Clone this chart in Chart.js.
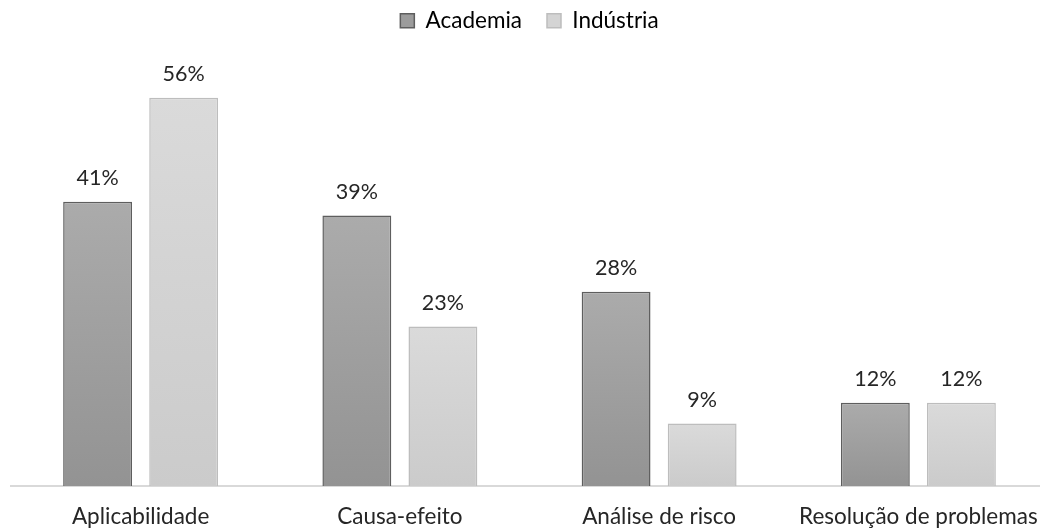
<!DOCTYPE html>
<html>
<head>
<meta charset="utf-8">
<script src="https://cdn.jsdelivr.net/npm/chart.js@4.4.1/dist/chart.umd.min.js"></script>
<style>
  html, body { margin: 0; padding: 0; background: #fff; overflow: hidden; }
  #wrap { width: 1058px; height: 531px; }
</style>
</head>
<body>
<div id="wrap"><canvas id="chart"></canvas></div>
<script>
const categories = ['Aplicabilidade', 'Causa-efeito', 'Análise de risco', 'Resolução de problemas']
const academia = [41, 39, 28, 12]
const industria = [56, 23, 9, 12]
const seriesNames = ['Academia', 'Indústria']

const FONT = 'Lato, "Open Sans", sans-serif'
const TEXT = '#262626'

// vertical gradient per bar, lighter at the top
function barGradient(top, bottom) {
  return (ctx) => {
    const chart = ctx.chart
    if (!chart.chartArea || ctx.raw === undefined) return bottom
    const y = chart.scales.y
    const g = chart.ctx.createLinearGradient(0, y.getPixelForValue(ctx.raw), 0, y.getPixelForValue(0))
    g.addColorStop(0, top)
    g.addColorStop(1, bottom)
    return g
  }
}

// percent labels above each bar
const valueLabels = {
  id: 'valueLabels',
  afterDatasetsDraw(chart) {
    const c = chart.ctx
    c.save()
    c.font = '21.5px ' + FONT
    c.fillStyle = TEXT
    c.textAlign = 'center'
    c.textBaseline = 'alphabetic'
    chart.data.datasets.forEach((ds, i) => {
      chart.getDatasetMeta(i).data.forEach((bar, j) => {
        c.fillText(ds.data[j] + '%', bar.x, bar.y - 17)
      })
    })
    c.restore()
  }
}

// leave room between legend and plot
const legendGap = {
  id: 'legendGap',
  beforeInit(chart) {
    const fit = chart.legend.fit
    chart.legend.fit = function () {
      fit.bind(this)()
      this.height = 85.5
    }
  }
}

const ctx = document.getElementById('chart').getContext('2d')
const chart = new Chart(ctx, {
  type: 'bar',
  data: {
    labels: categories,
    datasets: [
      {
        label: seriesNames[0],
        data: academia,
        backgroundColor: barGradient('#ababab', '#939393'),
        borderColor: '#5e5e5e',
        borderWidth: 1.5
      },
      {
        label: seriesNames[1],
        data: industria,
        backgroundColor: barGradient('#dadada', '#cbcbcb'),
        borderColor: '#bdbdbd',
        borderWidth: 1.5
      }
    ]
  },
  options: {
    responsive: true,
    maintainAspectRatio: false,
    animation: false,
    categoryPercentage: 0.664,
    barPercentage: 0.8,
    layout: { padding: { top: -15.5, left: 11, right: 10, bottom: 0 } },
    plugins: {
      tooltip: { enabled: false },
      legend: {
        position: 'top',
        labels: {
          font: { family: FONT, size: 22.5 },
          color: TEXT,
          boxWidth: 14,
          boxHeight: 14,
          padding: 25,
          generateLabels: () => [
            { text: seriesNames[0], fillStyle: '#9c9c9c', strokeStyle: '#5e5e5e', lineWidth: 1.5, datasetIndex: 0 },
            { text: seriesNames[1], fillStyle: '#d4d4d4', strokeStyle: '#bdbdbd', lineWidth: 1.5, datasetIndex: 1 }
          ]
        }
      }
    },
    scales: {
      x: {
        grid: { display: false, drawTicks: false },
        border: { color: '#d9d9d9', width: 2 },
        ticks: { font: { family: FONT, size: 22.5 }, color: TEXT, padding: 17.5 },
        afterFit(scale) { scale.height = 45 }
      },
      y: {
        display: false,
        min: 0,
        max: 60
      }
    }
  },
  plugins: [valueLabels, legendGap]
})
</script>
</body>
</html>
